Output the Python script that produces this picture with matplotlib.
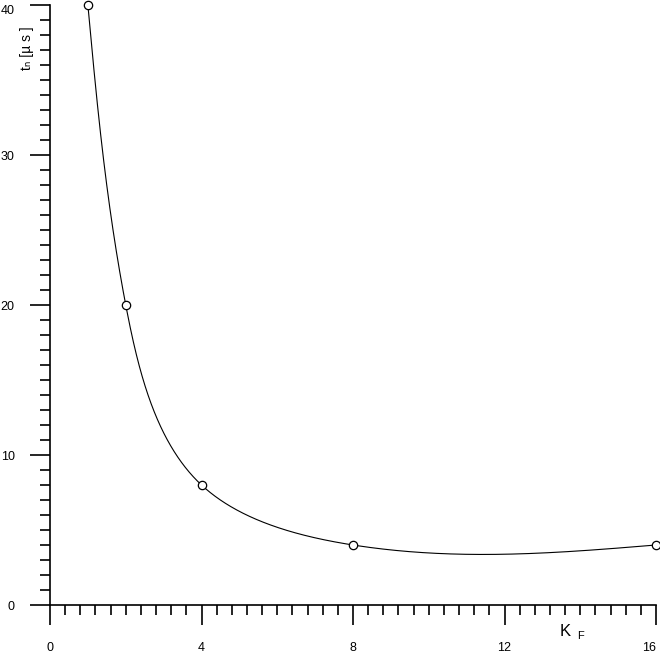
import numpy as np
import matplotlib
matplotlib.use("Agg")
import matplotlib.pyplot as plt
from matplotlib.ticker import MultipleLocator, FixedLocator

# Data
kf = [1, 2, 4, 8, 16]
tn = [40, 20, 8, 4, 4]
xticks = [0, 4, 8, 12, 16]
xticklabels = ["0", "4", "8", "12", "16"]
yticks = [0, 10, 20, 30, 40]
yticklabels = ["0", "10", "20", "30", "40"]

FAM = ["Liberation Sans", "DejaVu Sans"]


def natural_spline(x, y, xs):
    x = np.asarray(x, float); y = np.asarray(y, float)
    n = len(x)
    h = np.diff(x)
    A = np.zeros((n, n)); b = np.zeros(n)
    A[0, 0] = 1; A[-1, -1] = 1
    for i in range(1, n - 1):
        A[i, i - 1] = h[i - 1]
        A[i, i] = 2 * (h[i - 1] + h[i])
        A[i, i + 1] = h[i]
        b[i] = 6 * ((y[i + 1] - y[i]) / h[i] - (y[i] - y[i - 1]) / h[i - 1])
    M = np.linalg.solve(A, b)
    out = np.empty_like(xs)
    for j, xv in enumerate(xs):
        i = min(max(np.searchsorted(x, xv) - 1, 0), n - 2)
        t1 = x[i + 1] - xv; t0 = xv - x[i]
        out[j] = (M[i] * t1 ** 3 + M[i + 1] * t0 ** 3) / (6 * h[i]) \
            + (y[i] / h[i] - M[i] * h[i] / 6) * t1 \
            + (y[i + 1] / h[i] - M[i + 1] * h[i] / 6) * t0
    return out


fig = plt.figure(figsize=(6.6, 6.61), dpi=100)
W, H = 660, 661
ax = fig.add_axes([50 / W, 56 / H, 606 / W, 600 / H])
ax.set_xlim(0, 16)
ax.set_ylim(0, 40)

# parametric (chord-length) spline in display space for a smooth curve
fig.canvas.draw()
pts = ax.transData.transform(np.column_stack([kf, tn]))
d = np.r_[0, np.cumsum(np.hypot(*np.diff(pts, axis=0).T))]
ts = np.linspace(0, d[-1], 1500)
curve_px = np.column_stack([natural_spline(d, pts[:, 0], ts), natural_spline(d, pts[:, 1], ts)])
curve = ax.transData.inverted().transform(curve_px)
ax.plot(curve[:, 0], curve[:, 1], color="black", lw=0.8, clip_on=False)
ax.plot(kf, tn, "o", mfc="white", mec="black", ms=6, mew=0.9, clip_on=False, zorder=5)

for s in ["top", "right"]:
    ax.spines[s].set_visible(False)
for s in ["left", "bottom"]:
    ax.spines[s].set_linewidth(1.2)

ax.xaxis.set_major_locator(FixedLocator(xticks))
ax.set_xticklabels(xticklabels)
ax.xaxis.set_minor_locator(MultipleLocator(0.4))
ax.yaxis.set_major_locator(FixedLocator(yticks))
ax.set_yticklabels(yticklabels)
ax.yaxis.set_minor_locator(MultipleLocator(1))

ax.tick_params(which="major", direction="out", length=14.4, width=1.2)
ax.tick_params(which="minor", direction="out", length=7.2, width=1.2)
ax.tick_params(axis="x", which="major", pad=12)
ax.tick_params(axis="y", which="major", pad=11)
for lab in ax.get_xticklabels() + ax.get_yticklabels():
    lab.set_family(FAM)
    lab.set_fontsize(9)
ax.get_xticklabels()[-1].set_horizontalalignment("right")
ax.get_yticklabels()[-1].set_verticalalignment("top")

# axis labels
fig.text(565 / W, 1 - 632 / H, "K", family=FAM, fontsize=12, ha="center", va="center")
fig.text(581 / W, 1 - 636 / H, "F", family=FAM, fontsize=8, ha="center", va="center")
fig.text(27 / W, 1 - 48 / H, "t\u2099 [\u00b5 s ]", family=FAM, fontsize=10,
         rotation=90, ha="center", va="center")

fig.savefig("out.png", dpi=100)
